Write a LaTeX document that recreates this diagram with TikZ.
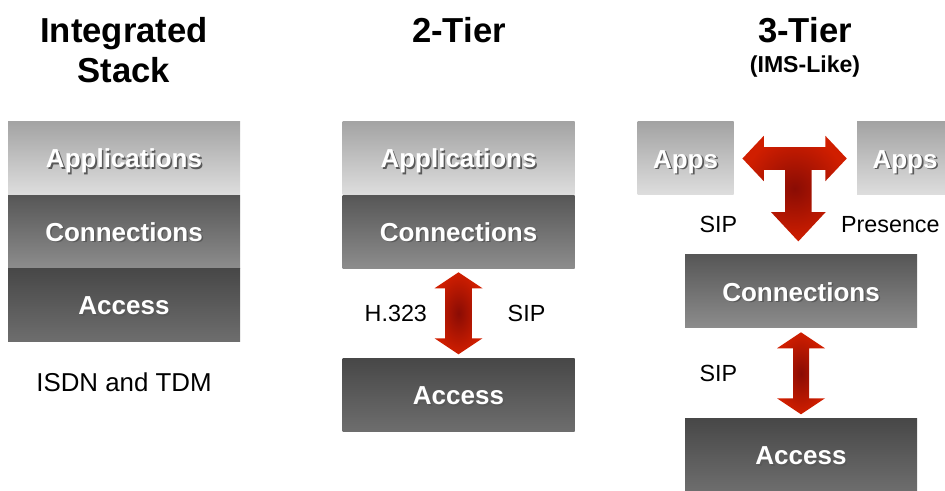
\documentclass[tikz,border=0pt]{standalone}
\usepackage{fontspec}
\setmainfont{Liberation Sans}
\usetikzlibrary{positioning,calc}

\definecolor{arrowred}{RGB}{208,30,0}
\definecolor{arrowdark}{RGB}{138,12,4}
\definecolor{appstop}{gray}{0.64}
\definecolor{appsbottom}{gray}{0.87}
\definecolor{conntop}{gray}{0.34}
\definecolor{connbottom}{gray}{0.55}
\definecolor{accesstop}{gray}{0.28}
\definecolor{accessbottom}{gray}{0.43}

% white label with a dark drop shadow
\newcommand{\embossed}[1]{\rlap{\kern1.2pt\raisebox{-1.2pt}{\color{black!65}#1}}#1}

% double headed fat arrow from the bottom of one box to the top of another
\newcommand{\fatarrow}[3]{%
  \path[redarrow] let \p1=($(#2.south)+(0,-3pt)$), \p2=($(#3.north)+(0,3pt)$) in
    (\x1,\y1) -- (\x1+18pt,\y1-12pt) -- (\x1+#1,\y1-12pt) -- (\x1+#1,\y2+12pt)
    -- (\x1+18pt,\y2+12pt) -- (\x1,\y2) -- (\x1-18pt,\y2+12pt) -- (\x1-#1,\y2+12pt)
    -- (\x1-#1,\y1-12pt) -- (\x1-18pt,\y1-12pt) -- cycle;}

\tikzset{
  layer/.style={minimum width=174pt, minimum height=54.75pt, inner sep=0pt,
    text height=14.5pt, text depth=0pt,
    text=white, font=\fontsize{19.5}{22}\selectfont\bfseries},
  appslayer/.style={layer, top color=appstop, bottom color=appsbottom},
  connlayer/.style={layer, top color=conntop, bottom color=connbottom},
  accesslayer/.style={layer, top color=accesstop, bottom color=accessbottom},
  appsbox/.style={appslayer, minimum width=72pt},
  heading/.style={align=center, font=\fontsize{26}{30}\selectfont\bfseries},
  note/.style={font=\fontsize{17.5}{20}\selectfont},
  redarrow/.style={shading=radial, inner color=arrowdark, outer color=arrowred},
}

\begin{document}
\begin{tikzpicture}[x=0.75pt, y=-0.75pt]
    \useasboundingbox (0,0) rectangle (945,491);

    % Headings
    \node[heading] (title_int) at (124,50) {Integrated\\Stack};
    \node[heading] (title_two) at (459,30) {2-Tier};
    \node[heading] (title_three) at (805,30) {3-Tier};
    \node[font=\fontsize{17.3}{20}\selectfont\bfseries] (sub_three) at (805,67) {(IMS-Like)};

    % Integrated stack
    \node[appslayer] (apps_int) at (124,158) {\embossed{Applications}};
    \node[connlayer] (conn_int) [below=0pt of apps_int] {\embossed{Connections}};
    \node[accesslayer] (access_int) [below=0pt of conn_int] {\embossed{Access}};
    \node[font=\fontsize{19.4}{22}\selectfont] (isdn) at ($(access_int.south)+(0,-30pt)$) {ISDN and TDM};

    % 2-tier
    \node[appslayer] (apps_two) at (458.5,158) {\embossed{Applications}};
    \node[connlayer] (conn_two) [below=0pt of apps_two] {\embossed{Connections}};
    \node[accesslayer] (access_two) [below=67.5pt of conn_two] {\embossed{Access}};
    \fatarrow{10pt}{conn_two}{access_two}
    \node[note] (h323) at ($(conn_two.south)!0.5!(access_two.north)+(-47pt,0)$) {H.323};
    \node[note] (sip_two) at ($(conn_two.south)!0.5!(access_two.north)+(51pt,0)$) {SIP};

    % 3-tier
    \node[appsbox] (apps_left) at (685.5,158.5) {\embossed{Apps}};
    \node[appsbox] (apps_right) at (905,158.5) {\embossed{Apps}};
    \node[connlayer] (conn_three) at (801,291.5) {\embossed{Connections}};
    \node[accesslayer] (access_three) [below=67.5pt of conn_three] {\embossed{Access}};

    % T shaped arrow joining both apps to the connections layer
    \path[redarrow] let \p1=($(apps_left.east)+(6.5pt,0)$), \p2=($(apps_right.west)+(-7.5pt,0)$),
        \p3=($(conn_three.north)+(-2pt,10pt)$) in
      (\x1,\y1) -- (\x1+16pt,\y1+17pt) -- (\x1+16pt,\y1+8.5pt) -- (\x2-16pt,\y1+8.5pt)
      -- (\x2-16pt,\y1+17pt) -- (\x2,\y1) -- (\x2-16pt,\y1-17pt) -- (\x2-16pt,\y1-8.5pt)
      -- (\x3+10pt,\y1-8.5pt) -- (\x3+10pt,\y3+22pt) -- (\x3+20.5pt,\y3+22pt) -- (\x3,\y3)
      -- (\x3-20.5pt,\y3+22pt) -- (\x3-10pt,\y3+22pt) -- (\x3-10pt,\y1-8.5pt)
      -- (\x1+16pt,\y1-8.5pt) -- (\x1+16pt,\y1-17pt) -- cycle;
    \node[note] (sip_apps) at ($(conn_three.north)+(-62pt,22.5pt)$) {SIP};
    \node[note] (presence) at ($(conn_three.north)+(67pt,22.5pt)$) {Presence};

    \fatarrow{6pt}{conn_three}{access_three}
    \node[note] (sip_three) at ($(conn_three.south)!0.5!(access_three.north)+(-62pt,0)$) {SIP};
\end{tikzpicture}
\end{document}
